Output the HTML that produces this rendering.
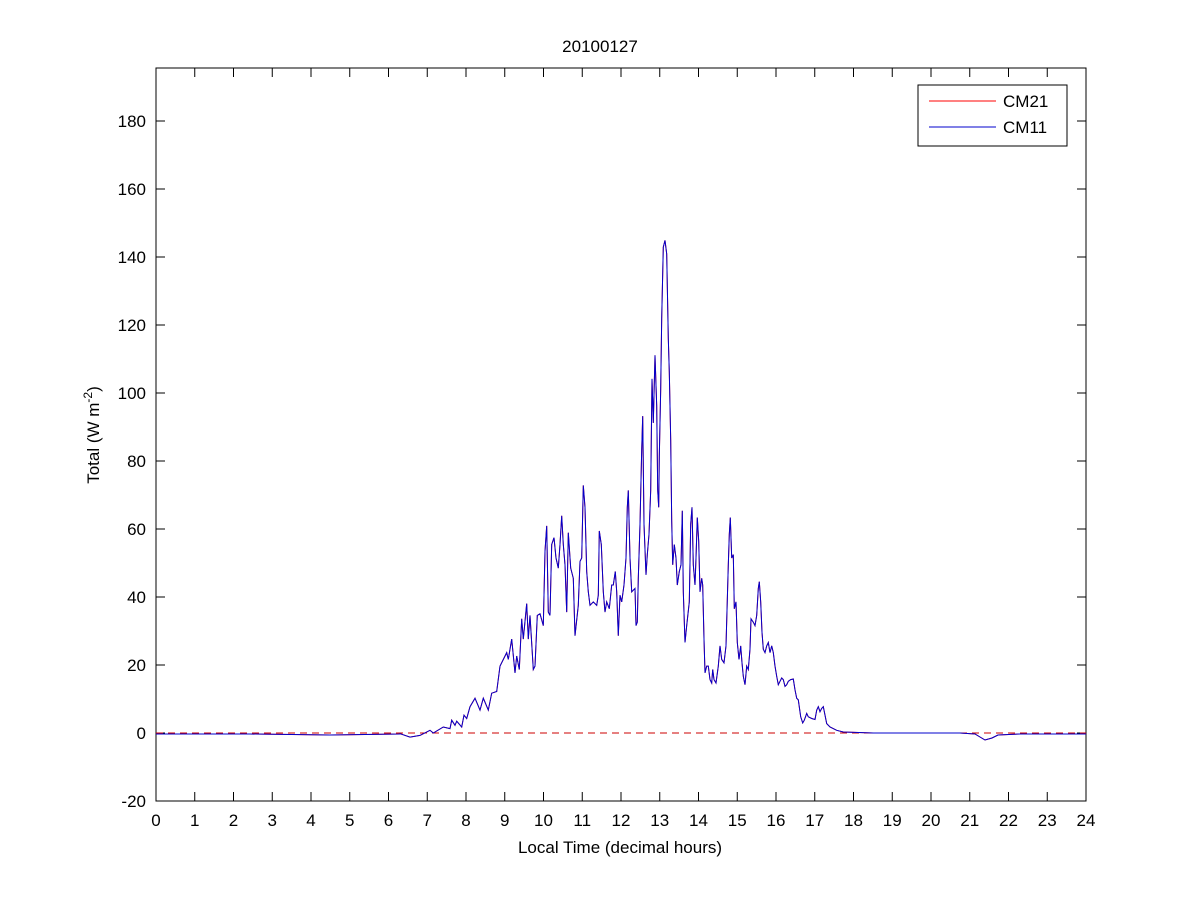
<!DOCTYPE html>
<html><head><style>body{margin:0;background:#fff}svg{display:block}text{font-family:"Liberation Sans",sans-serif;font-size:17px;fill:#000}</style></head><body>
<svg width="1200" height="900" viewBox="0 0 1200 900">
<rect x="0" y="0" width="1200" height="900" fill="#fff"/>
<rect x="156" y="68" width="930" height="733" fill="#fff" stroke="#000" stroke-width="1"/>
<text x="600" y="52" text-anchor="middle">20100127</text>
<g stroke="#000" stroke-width="1" id="ticks"></g>
<g id="labels"></g>
<line x1="156" y1="733" x2="1086" y2="733" stroke="#c00" stroke-dasharray="7,5" stroke-width="1"/>
<polyline id="red" fill="none" stroke="#f00" stroke-width="1" points=""/>
<polyline id="blue" fill="none" stroke="#00c" stroke-width="1" points=""/>
<rect x="918" y="85" width="149" height="61" fill="#fff" stroke="#000"/>
<line x1="929" y1="101" x2="996" y2="101" stroke="#f00"/>
<line x1="929" y1="127" x2="996" y2="127" stroke="#00c"/>
<text x="1003" y="107">CM21</text>
<text x="1003" y="133">CM11</text>
<text x="620" y="853" text-anchor="middle">Local Time (decimal hours)</text>
<text transform="translate(99,435) rotate(-90)" text-anchor="middle">Total (W m<tspan font-size="12" dy="-7">-2</tspan><tspan dy="7">)</tspan></text>
</svg>
<script>
var t=document.getElementById('ticks'),l=document.getElementById('labels'),ns='http://www.w3.org/2000/svg';
function ln(a,b,c,d){var e=document.createElementNS(ns,'line');e.setAttribute('x1',a);e.setAttribute('y1',b);e.setAttribute('x2',c);e.setAttribute('y2',d);t.appendChild(e);}
function tx(x,y,s,a){var e=document.createElementNS(ns,'text');e.setAttribute('x',x);e.setAttribute('y',y);e.setAttribute('text-anchor',a);e.textContent=s;l.appendChild(e);}
for(var h=0;h<=24;h++){var x=156+h*38.75;ln(x,801,x,792);ln(x,68,x,77);tx(x,826,h,'middle');}
for(var v=-20;v<=180;v+=20){var y=733-v*3.4;ln(156,y,165,y);ln(1086,y,1077,y);tx(146,y+6,v,'end');}
var z1=[0,1520,30,1530,60,1525,90,1510,100,1518,130,1500,150,1505,155,1480,165,1495,170,1483,185,1500,192,1465,200,1475,210,1440,225,1415,240,1450,250,1415,265,1450,275,1400,290,1395,300,1320,320,1280,325,1300,335,1240,345,1340,350,1290,358,1330,365,1180,370,1240,380,1135,385,1240,390,1170,400,1330,405,1320,412,1170,420,1165,430,1200,435,980,440,905,445,1160,450,1170,455,960,462,940,468,1000,475,1030,480,960,485,875,490,960,495,1020,500,1160,505,925,512,1030,520,1060,525,1230,535,1140,540,1010,545,1000,550,785,555,850,560,1040,565,1100,570,1140,580,1130,590,1140,595,1110,598,920,604,960,610,1100,615,1160,620,1130,628,1150,635,1080,640,1080,646,1040,650,1100,655,1230,660,1110,665,1130,672,1080,678,1000,682,850,685,800,690,1000,695,1100,705,1090,708,1200,712,1190,715,1060,720,900,725,680,728,580,732,900,738,1050,742,990,747,930,752,800,756,470,760,600,765,400,770,550,773,800,776,850,778,700,782,500,785,290,790,80,795,60];
var z2=[80,100,85,350,88,450,92,650,95,890,98,1020,103,960,108,1000,112,1080,118,1040,123,1020,127,860,130,1100,135,1250,140,1200,148,1130,152,900,156,850,160,1020,165,1080,168,1000,172,880,176,950,180,1100,185,1060,188,1080,192,1240,195,1340,200,1320,205,1320,210,1360,215,1370,218,1330,222,1360,228,1370,235,1320,240,1260,245,1300,252,1310,258,1260,265,1020,268,930,271,880,275,1000,280,990,283,1150,288,1130,292,1250,297,1300,302,1260,306,1310,310,1350,315,1375,320,1320,325,1330,330,1270,333,1180,340,1190,345,1200,350,1170,355,1090,358,1070,362,1130,366,1220,370,1270,375,1280,380,1260,385,1250,390,1280,395,1260,400,1280,405,1320,410,1350,415,1375,420,1365,425,1355,430,1360,435,1380,440,1375,445,1365,452,1360,460,1358,465,1390,470,1415,475,1420,482,1470,488,1488,493,1480,500,1460,505,1470,515,1475,525,1478,530,1450,535,1440,540,1455,545,1445,550,1440,555,1465,560,1490,570,1500,590,1510,610,1515,700,1518,810,1518];
function Y(zy){return (237+(zy-50)*0.3379).toFixed(1);}
var pts=['156,734','250,734','330,735','400,734'];
for(var i=0;i<z1.length;i+=2)pts.push((400+z1[i]/3).toFixed(1)+','+Y(z1[i+1]));
for(var i=0;i<z2.length;i+=2)pts.push((640+z2[i]/3).toFixed(1)+','+Y(z2[i+1]));
pts=pts.concat(['960,733','975,734','980,737','985,740','992,738','998,735','1020,734','1040,734','1086,734']);
var p=pts.join(' ');
document.getElementById('red').setAttribute('points',p);
document.getElementById('blue').setAttribute('points',p);
</script>
</body></html>
